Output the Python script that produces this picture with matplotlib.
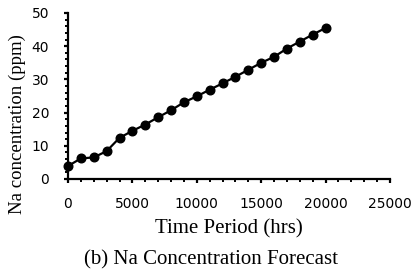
import numpy as np
import matplotlib.pyplot as plt
from matplotlib.ticker import MultipleLocator

# Na concentration forecast
time_hrs = [0, 1000, 2000, 3000, 4000, 5000, 6000, 7000, 8000, 9000, 10000,
            11000, 12000, 13000, 14000, 15000, 16000, 17000, 18000, 19000, 20000]
na_ppm = [3.9, 6.2, 6.5, 8.4, 12.4, 14.5, 16.4, 18.6, 20.7, 23.1, 24.9,
          26.9, 28.8, 30.8, 32.9, 35.0, 36.8, 39.3, 41.4, 43.5, 45.5]

serif = ["Liberation Serif", "DejaVu Serif"]

fig = plt.figure(figsize=(4.17, 2.73), dpi=100)
# plot area: x 68..390 px, y 13..179 px
ax = fig.add_axes([68 / 417, 1 - 179 / 273, 322 / 417, 166 / 273])

ax.plot(time_hrs, na_ppm, color="black", linewidth=1.6,
        marker="o", markersize=6.2, clip_on=False)

ax.set_xlim(0, 25000)
ax.set_ylim(0, 50)
ax.xaxis.set_major_locator(MultipleLocator(5000))
ax.xaxis.set_minor_locator(MultipleLocator(1000))
ax.yaxis.set_major_locator(MultipleLocator(10))
ax.yaxis.set_minor_locator(MultipleLocator(2))

for side in ["top", "right"]:
    ax.spines[side].set_visible(False)
for side in ["left", "bottom"]:
    ax.spines[side].set_linewidth(1.6)

ax.tick_params(which="major", direction="out", length=3, width=1.6,
               labelsize=10)
ax.tick_params(which="minor", direction="out", length=2, width=1.4)
ax.tick_params(axis="x", which="major", pad=10)
ax.tick_params(axis="y", which="major", pad=10.5)

ax.set_xlabel("Time Period (hrs)", fontsize=15, family=serif, labelpad=6)
ax.set_ylabel("Na concentration (ppm)", fontsize=13.5, family=serif)
ax.yaxis.set_label_coords(-0.13, 0.33)

fig.text(211 / 417, 1 - 260 / 273, "(b) Na Concentration Forecast",
         ha="center", va="center", fontsize=15, family=serif)

plt.savefig("out.png", dpi=100)
